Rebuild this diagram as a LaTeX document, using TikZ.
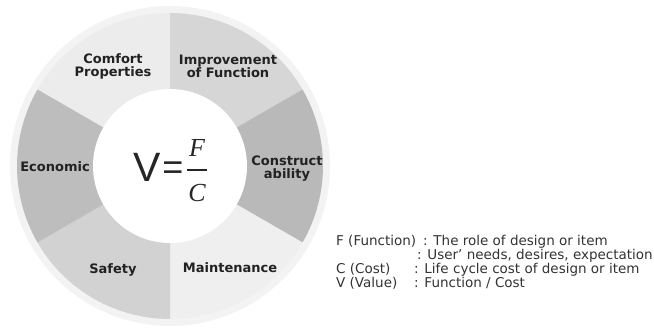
\documentclass[tikz,border=0pt]{standalone}
\usepackage{fontspec}
\setmainfont{DejaVu Sans}
\newfontfamily\vfont{Liberation Sans}
\newfontfamily\ffont{Liberation Serif}
\definecolor{rim}{HTML}{F3F3F3}
\definecolor{sComfort}{HTML}{ECECEC}
\definecolor{sImprove}{HTML}{D6D6D6}
\definecolor{sConstruct}{HTML}{B9B9B9}
\definecolor{sMaint}{HTML}{EFEFEF}
\definecolor{sSafety}{HTML}{D2D2D2}
\definecolor{sEcon}{HTML}{BDBDBD}
\definecolor{labtext}{HTML}{222222}
\definecolor{legtext}{HTML}{333333}
\begin{document}
\begin{tikzpicture}[x=1pt,y=1pt,
  seglabel/.style={font=\bfseries\fontsize{13}{13}\selectfont, text=labtext, align=center, inner sep=0pt},
  legend/.style={font=\fontsize{13.5}{14}\selectfont, text=legtext, anchor=base west, inner sep=0pt},
  mathbig/.style={inner sep=0pt, text=black!85}]
\useasboundingbox (0,0) rectangle (654,330);
\fill[white] (0,0) rectangle (654,330);
\coordinate (C) at (170,164);
% outer rim
\fill[rim] (C) circle[radius=160];
% sectors
\def\R{153}
\fill[sComfort]   (C) -- ++(90:\R)  arc[start angle=90,  end angle=150, radius=\R] -- cycle;
\fill[sImprove]   (C) -- ++(30:\R)  arc[start angle=30,  end angle=90,  radius=\R] -- cycle;
\fill[sConstruct] (C) -- ++(-30:\R) arc[start angle=-30, end angle=30,  radius=\R] -- cycle;
\fill[sMaint]     (C) -- ++(-90:\R) arc[start angle=-90, end angle=-30, radius=\R] -- cycle;
\fill[sSafety]    (C) -- ++(210:\R) arc[start angle=210, end angle=270, radius=\R] -- cycle;
\fill[sEcon]      (C) -- ++(150:\R) arc[start angle=150, end angle=210, radius=\R] -- cycle;
% inner white disc
\fill[white] (C) circle[radius=77];
% labels
\node[seglabel] (comfort) at (113,263.5) {Comfort\\Properties};
\node[seglabel] (improve) at (228,263.5) {Improvement\\of Function};
\node[seglabel] (econ) at (55,163) {Economic};
\node[seglabel] (constr) at (287,161.5) {Construct\\ability};
\node[seglabel] (safety) at (113,60) {Safety};
\node[seglabel] (maint) at (230,62) {Maintenance};
% formula
\node[mathbig, font=\vfont\fontsize{41}{41}\selectfont] (V) at (147.5,163) {V};
\node[mathbig, font=\vfont\fontsize{36}{36}\selectfont] (eq) at (173,159) {=};
\node[mathbig, font=\ffont\itshape\fontsize{26}{26}\selectfont] (F) at (197,182) {F};
\node[mathbig, font=\ffont\itshape\fontsize{26}{26}\selectfont] (Cn) at (197,137) {C};
\coordinate (barL) at (187,160);
\coordinate (barR) at (207,160);
\draw[line width=1.6pt, black!85] (barL) -- (barR);
% legend
\node[legend] (l1a) at (336,85) {F (Function)};
\node[legend] (l1b) at (423,85) {: The role of design or item};
\node[legend] (l2b) at (417,71) {: User' needs, desires, expectation};
\node[legend] (l3a) at (336,57) {C (Cost)};
\node[legend] (l3b) at (414,57) {: Life cycle cost of design or item};
\node[legend] (l4a) at (336,43) {V (Value)};
\node[legend] (l4b) at (414,43) {: Function / Cost};
\end{tikzpicture}
\end{document}
